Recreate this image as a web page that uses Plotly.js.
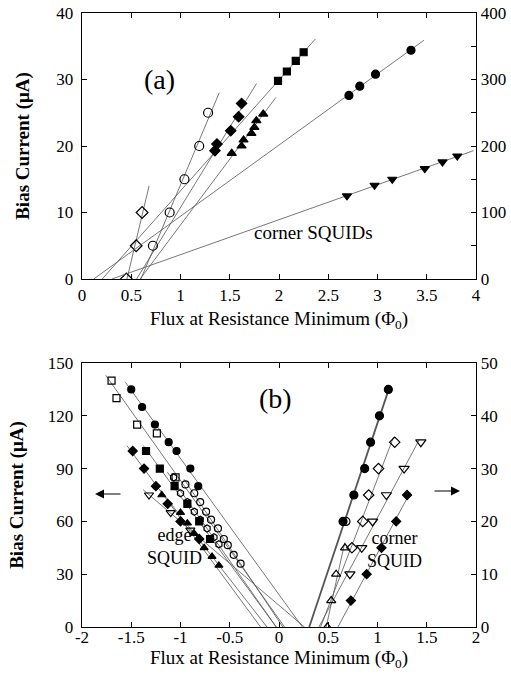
<!DOCTYPE html>
<html><head><meta charset="utf-8">
<script src="https://cdn.plot.ly/plotly-3.0.1.min.js"></script>
<style>html,body{margin:0;padding:0;background:#fff}#chart{width:511px;height:684px}</style>
</head><body><div id="chart"></div>
<script>
// ---------- Panel (a): corner SQUIDs ----------
// left axis (µA, 0-40)
const aOpenCircX = [0.72, 0.89, 1.04, 1.19, 1.28];
const aOpenCircY = [5, 10, 15, 20, 25];
const aOpenDiamX = [0.45, 0.55, 0.61];
const aOpenDiamY = [0, 5, 10];
const aFillDiamX = [1.35, 1.37, 1.51, 1.59, 1.62];
const aFillDiamY = [19.3, 20.3, 22.3, 24.4, 26.4];
const aFillSqX = [1.99, 2.08, 2.17, 2.25];
const aFillSqY = [29.8, 31.2, 32.8, 34.1];
const aTriUpX = [1.52, 1.62, 1.64, 1.72, 1.75, 1.77, 1.84];
const aTriUpY = [18.9, 20.0, 20.9, 21.9, 22.8, 23.8, 24.8];
// right axis (µA, 0-400)
const aFillCircX = [2.71, 2.82, 2.98, 3.34];
const aFillCircY = [276, 290, 308, 344];
const aTriDownX = [2.69, 2.97, 3.15, 3.48, 3.66, 3.81];
const aTriDownY = [125, 141, 150, 166, 176, 185];

// ---------- Panel (b): edge SQUID (left axis 0-150) ----------
const bFillCircX = [-1.50, -1.39, -1.26, -1.12, -1.04, -0.90, -0.82];
const bFillCircY = [135, 125, 115, 105, 100, 90, 80];
const bOpenSqX = [-1.70, -1.65, -1.44, -1.24, -1.05];
const bOpenSqY = [140, 130, 115, 110, 85];
const bFillDiamX = [-1.485, -1.37, -1.25, -1.13, -1.00, -0.81];
const bFillDiamY = [100, 90, 80, 70, 60, 50];
const bFillSqX = [-1.35, -1.21, -1.06, -0.93, -0.81, -0.70];
const bFillSqY = [100, 90, 80, 70, 60, 50];
const bTriUpX = [-1.19, -1.00, -0.93, -0.86, -0.76, -0.68, -0.61];
const bTriUpY = [75, 65, 59, 53, 45, 40, 35];
const bOpenTriDownX = [-1.32, -1.10, -0.90];
const bOpenTriDownY = [75, 65, 55];
const bOpenCirc1X = [-1.07, -1.00, -0.93, -0.86, -0.80, -0.73, -0.66, -0.61];
const bOpenCirc1Y = [85, 76, 71, 65.5, 61, 56, 51, 47];
const bOpenCirc2X = [-0.95, -0.86, -0.80, -0.74, -0.69, -0.62, -0.56, -0.52, -0.46, -0.39];
const bOpenCirc2Y = [81, 76, 71, 65.5, 61, 56, 50, 46.5, 41, 36];
// corner SQUID (right axis 0-50)
const cFillCircX = [0.65, 0.76, 0.87, 0.93, 1.02, 1.11];
const cFillCircY = [20, 25, 30, 35, 40, 45];
const cOpenCircX = [0.68];
const cOpenCircY = [20];
const cOpenDiamX = [0.74, 0.85, 0.91, 1.01, 1.175];
const cOpenDiamY = [15, 20, 25, 30, 35];
const cOpenTriDownX = [0.72, 0.84, 0.95, 1.09, 1.27, 1.44];
const cOpenTriDownY = [10, 15, 20, 25, 30, 35];
const cFillDiamX = [0.73, 0.89, 1.04, 1.19, 1.30];
const cFillDiamY = [5, 10, 15, 20, 25];
const cOpenTriUpX = [0.49, 0.53, 0.58, 0.67];
const cOpenTriUpY = [0, 5, 10, 15];

// tick labels of the panel (b) flux axis (hyphen minus as printed)
const bTickVals = [-2, -1.5, -1, -0.5, 0, 0.5, 1, 1.5, 2];
const bTickText = ['-2', '-1.5', '-1', '-0.5', '0', '0.5', '1', '1.5', '2'];

const FONT = 'Liberation Serif';
const W = 511, H = 684, ML = 82, MR = 35, MT = 13, MB = 57;
const PW = W - ML - MR, PH = H - MT - MB;
const px = v => (v - ML) / PW;          // page pixel -> paper x
const py = v => (H - MB - v) / PH;      // page pixel -> paper y

function fit(xs, ys) {
  const n = xs.length;
  const mx = xs.reduce((s, v) => s + v, 0) / n;
  const my = ys.reduce((s, v) => s + v, 0) / n;
  let sxy = 0, syy = 0;
  for (let i = 0; i < n; i++) { sxy += (ys[i] - my) * (xs[i] - mx); syy += (ys[i] - my) ** 2; }
  const b = sxy / syy, a = mx - b * my;
  return y => a + b * y;
}
function fitLine(xs, ys, xa, ya, ext, w) {
  const f = fit(xs, ys);
  const yt = Math.max(...ys) + ext;
  return { x: [f(0), f(yt)], y: [0, yt], mode: 'lines', xaxis: xa, yaxis: ya,
    line: { color: '#555', width: w || 0.8 }, hoverinfo: 'skip', showlegend: false };
}
function pts(xs, ys, sym, xa, ya, size) {
  return { x: xs, y: ys, mode: 'markers', xaxis: xa, yaxis: ya, showlegend: false,
    marker: { symbol: sym, size: size || 8, color: 'black', line: { color: 'black', width: 1.2 } } };
}

const traces = [
  fitLine(aOpenCircX, aOpenCircY, 'x', 'y', 3),
  fitLine(aOpenDiamX, aOpenDiamY, 'x', 'y', 4),
  fitLine(aFillDiamX, aFillDiamY, 'x', 'y', 3),
  fitLine(aFillSqX, aFillSqY, 'x', 'y', 2),
  fitLine(aTriUpX, aTriUpY, 'x', 'y', 2.5),
  fitLine(aFillCircX, aFillCircY, 'x', 'y2', 15),
  fitLine(aTriDownX, aTriDownY, 'x', 'y2', 8),
  pts(aOpenCircX, aOpenCircY, 'circle-open', 'x', 'y', 9),
  pts(aOpenDiamX, aOpenDiamY, 'diamond-open', 'x', 'y', 9),
  pts(aFillDiamX, aFillDiamY, 'diamond', 'x', 'y', 8),
  pts(aFillSqX, aFillSqY, 'square', 'x', 'y', 7),
  pts(aTriUpX, aTriUpY, 'triangle-up', 'x', 'y', 8),
  pts(aFillCircX, aFillCircY, 'circle', 'x', 'y2', 8),
  pts(aTriDownX, aTriDownY, 'triangle-down', 'x', 'y2', 8),

  fitLine(bFillCircX, bFillCircY, 'x2', 'y3', 4),
  fitLine(bOpenSqX, bOpenSqY, 'x2', 'y3', 3),
  fitLine(bFillDiamX, bFillDiamY, 'x2', 'y3', 3),
  fitLine(bFillSqX, bFillSqY, 'x2', 'y3', 3),
  fitLine(bTriUpX, bTriUpY, 'x2', 'y3', 3),
  fitLine(bOpenTriDownX, bOpenTriDownY, 'x2', 'y3', 3),
  fitLine(bOpenCirc1X, bOpenCirc1Y, 'x2', 'y3', 3),
  fitLine(bOpenCirc2X, bOpenCirc2Y, 'x2', 'y3', 3),
  fitLine(cFillCircX, cFillCircY, 'x2', 'y4', 0, 1.8),
  fitLine(cOpenDiamX, cOpenDiamY, 'x2', 'y4', 1),
  fitLine(cOpenTriDownX, cOpenTriDownY, 'x2', 'y4', 0.5),
  fitLine(cFillDiamX, cFillDiamY, 'x2', 'y4', 0.5),
  fitLine(cOpenTriUpX, cOpenTriUpY, 'x2', 'y4', 1),
  pts(bFillCircX, bFillCircY, 'circle', 'x2', 'y3', 7),
  pts(bOpenSqX, bOpenSqY, 'square-open', 'x2', 'y3', 7),
  pts(bFillDiamX, bFillDiamY, 'diamond', 'x2', 'y3', 7),
  pts(bFillSqX, bFillSqY, 'square', 'x2', 'y3', 7),
  pts(bTriUpX, bTriUpY, 'triangle-up', 'x2', 'y3', 7),
  pts(bOpenTriDownX, bOpenTriDownY, 'triangle-down-open', 'x2', 'y3', 8),
  pts(bOpenCirc1X, bOpenCirc1Y, 'hexagon-open', 'x2', 'y3', 7),
  pts(bOpenCirc2X, bOpenCirc2Y, 'circle-open', 'x2', 'y3', 7),
  pts(cFillCircX, cFillCircY, 'circle', 'x2', 'y4', 8),
  pts(cOpenCircX, cOpenCircY, 'circle-open', 'x2', 'y4', 8),
  pts(cOpenDiamX, cOpenDiamY, 'diamond-open', 'x2', 'y4', 8),
  pts(cOpenTriDownX, cOpenTriDownY, 'triangle-down-open', 'x2', 'y4', 9),
  pts(cFillDiamX, cFillDiamY, 'diamond', 'x2', 'y4', 7),
  pts(cOpenTriUpX, cOpenTriUpY, 'triangle-up-open', 'x2', 'y4', 8),
  // empty trace that binds the label-only x axis of panel (b) so it gets drawn
  { x: [], y: [], mode: 'markers', xaxis: 'x3', yaxis: 'y3', showlegend: false, hoverinfo: 'skip' }
];

const tickFont = { family: FONT, size: 17, color: 'black' };
const common = { showline: true, linecolor: 'black', linewidth: 1.3, ticks: 'inside', ticklen: 5,
  tickcolor: 'black', tickwidth: 1, showgrid: false, zeroline: false, tickfont: tickFont, fixedrange: true };
const xTitle = s => ({ text: 'Flux at Resistance Minimum (Φ<sub>0</sub>)', font: { family: FONT, size: 19, color: 'black' }, standoff: s });
const yTitle = s => ({ text: '<b>Bias Current (μA)</b>', font: { family: FONT, size: 19, color: 'black' }, standoff: s });
const ann = (t, x, y, s) => ({ text: t, x: px(x), y: py(y), xref: 'paper', yref: 'paper', showarrow: false,
  font: { family: FONT, size: s, color: 'black' } });
const arrow = (x, y, dx) => ({ text: '', x: px(x), y: py(y), xref: 'paper', yref: 'paper', showarrow: true,
  ax: dx, ay: 0, arrowhead: 2, arrowsize: 1.5, arrowwidth: 1.2, arrowcolor: 'black' });

const layout = {
  width: W, height: H,
  margin: { l: ML, r: MR, t: MT, b: MB },
  paper_bgcolor: 'white', plot_bgcolor: 'white',
  showlegend: false,
  font: { family: FONT, color: 'black', size: 17 },
  xaxis: Object.assign({}, common, { anchor: 'y', range: [0, 4], dtick: 0.5, mirror: 'ticks', title: xTitle(8) }),
  yaxis: Object.assign({}, common, { anchor: 'x', domain: [py(279), 1], range: [0, 40], dtick: 10, mirror: true,
    ticklabelstandoff: 4, title: yTitle(21) }),
  yaxis2: Object.assign({}, common, { anchor: 'x', overlaying: 'y', side: 'right', range: [0, 400], dtick: 100,
    minor: { dtick: 50, ticks: 'inside', ticklen: 5, tickcolor: 'black', showgrid: false } }),
  xaxis2: Object.assign({}, common, { anchor: 'y3', range: [-2, 2], dtick: 0.5, mirror: 'ticks', showticklabels: false }),
  // tick labels + title of panel (b) x axis, drawn a little closer to the frame as in the reference
  xaxis3: Object.assign({}, common, { overlaying: 'x2', anchor: 'free', position: py(625), range: [-2, 2],
    tickmode: 'array', tickvals: bTickVals, ticktext: bTickText,
    showline: false, ticks: '', title: xTitle(3) }),
  yaxis3: Object.assign({}, common, { anchor: 'x2', domain: [0, py(363)], range: [0, 150], dtick: 30, mirror: true,
    ticklabelstandoff: 4, title: yTitle(19) }),
  yaxis4: Object.assign({}, common, { anchor: 'x2', overlaying: 'y3', side: 'right', range: [0, 50], dtick: 10 }),
  annotations: [
    ann('(a)', 142, 62, 28),
    ann('corner SQUIDs', 375, 232, 19),
    ann('(b)', 275, 398, 28),
    ann('edge<br>SQUID', 145, 570, 18),
    ann('corner<br>SQUID', 424, 573, 18),
    arrow(95, 494, 27),
    arrow(460, 491, -27)
  ]
};

Plotly.newPlot('chart', traces, layout, { staticPlot: true, displayModeBar: false });
</script>
</body></html>
